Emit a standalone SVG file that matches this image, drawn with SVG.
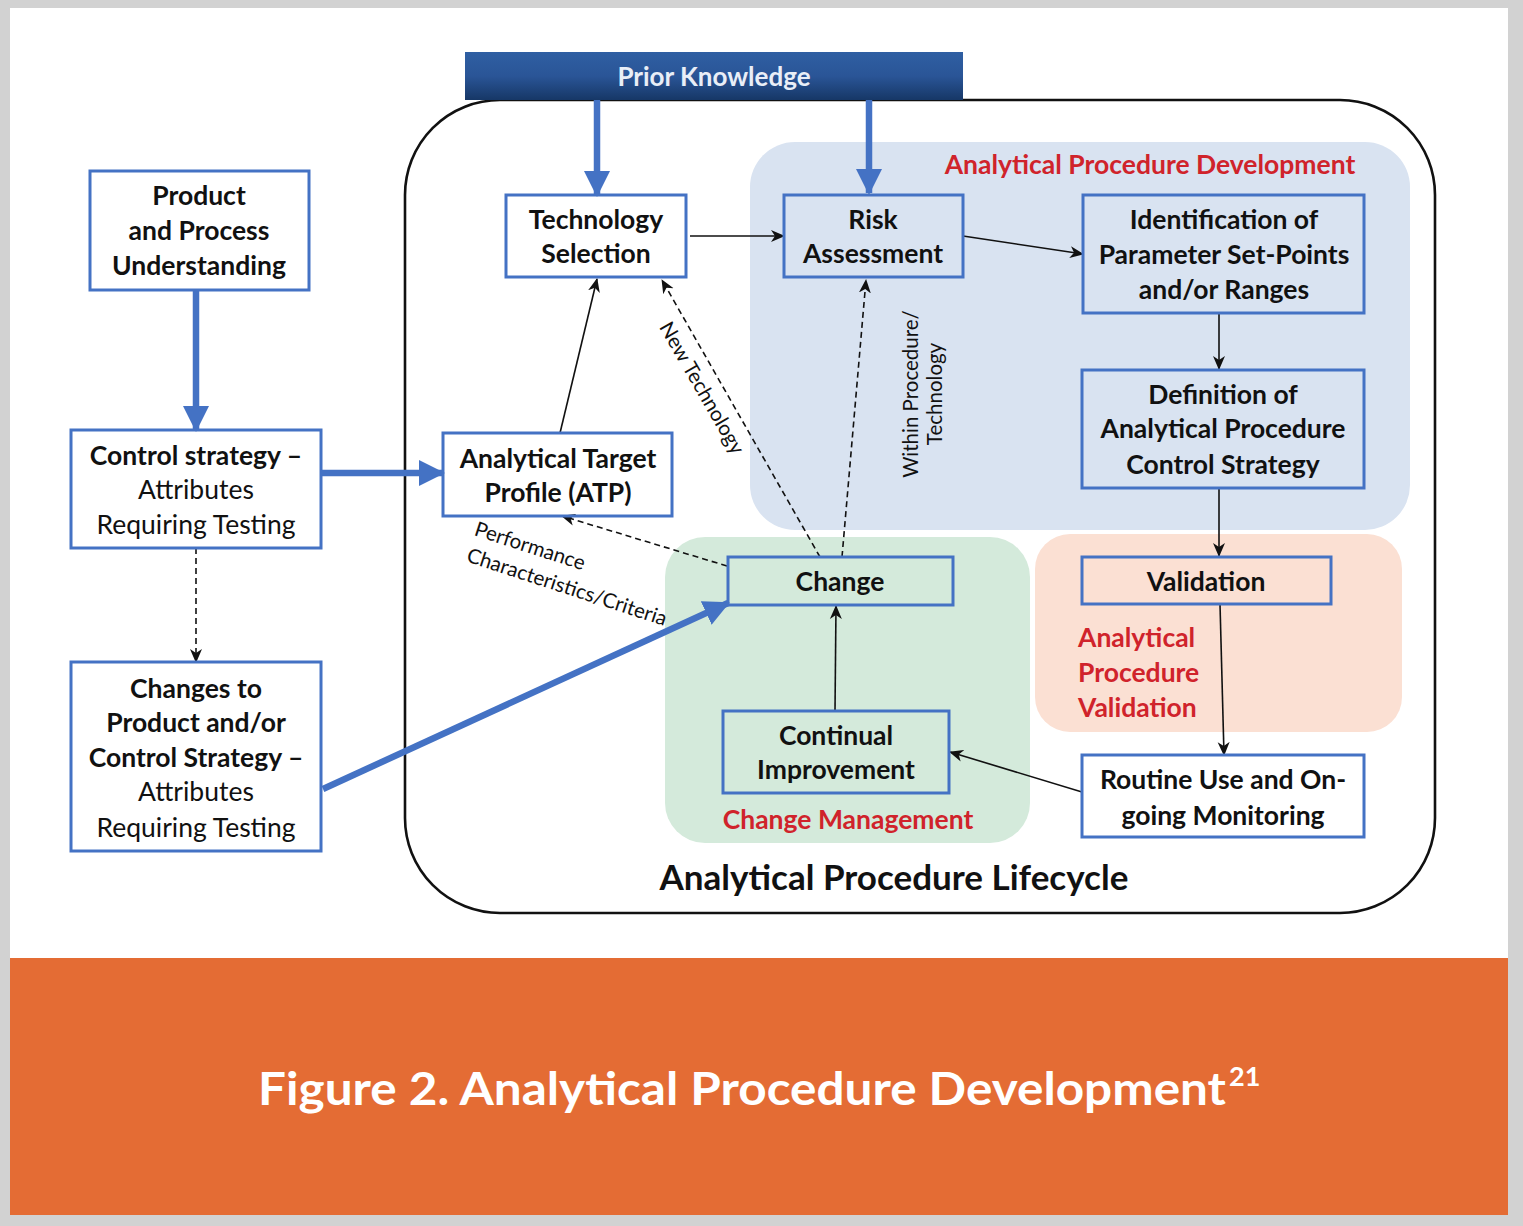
<svg xmlns="http://www.w3.org/2000/svg" width="1523" height="1226" viewBox="0 0 1523 1226">
<style>
.t{font-family:Lato,"Open Sans","Liberation Sans",sans-serif;font-size:26.5px;font-weight:bold;fill:#111;text-anchor:middle}
.r{font-weight:normal}
.red{font-family:Lato,"Open Sans","Liberation Sans",sans-serif;font-size:26.5px;font-weight:bold;fill:#d0232b}
.sm{font-family:Lato,"Open Sans","Liberation Sans",sans-serif;font-size:20.5px;fill:#111;text-anchor:middle}
.box{fill:none;stroke:#4472c4;stroke-width:3}
.thick{stroke:#4472c4;stroke-width:6.5;fill:none;marker-end:url(#ab)}
.thin{stroke:#111;stroke-width:1.6;fill:none;marker-end:url(#ak)}
.dash{stroke:#111;stroke-width:1.6;fill:none;stroke-dasharray:6,4;marker-end:url(#ak)}
</style>
<defs>
<linearGradient id="pk" x1="0" y1="0" x2="0" y2="1">
<stop offset="0" stop-color="#2f5fa3"/>
<stop offset="0.5" stop-color="#2a5597"/>
<stop offset="1" stop-color="#163766"/>
</linearGradient>
<marker id="ab" markerUnits="userSpaceOnUse" markerWidth="26" markerHeight="26" viewBox="0 0 26 26" refX="24" refY="13" orient="auto">
<path d="M0,0 L26,13 L0,26 z" fill="#4472c4"/>
</marker>
<marker id="ak" markerUnits="userSpaceOnUse" markerWidth="14" markerHeight="14" viewBox="0 0 14 14" refX="13" refY="7" orient="auto">
<path d="M0,1 L14,7 L0,13 L4,7 z" fill="#111"/>
</marker>
</defs>

<rect x="0" y="0" width="1523" height="1226" fill="#d2d2d2"/>
<rect x="10" y="8" width="1498" height="950" fill="#ffffff"/>
<rect x="10" y="958" width="1498" height="257" fill="#e46c34"/>
<g id="caption">
<text x="258" y="1105" textLength="968" lengthAdjust="spacingAndGlyphs" style="font-family:Lato,'Open Sans','Liberation Sans',sans-serif;font-size:46px;font-weight:bold;fill:#ffffff">Figure 2. Analytical Procedure Development</text>
<text x="1229" y="1086" style="font-family:Lato,'Open Sans','Liberation Sans',sans-serif;font-size:27px;font-weight:bold;fill:#ffffff">21</text>
</g>

<g id="regions">
<rect x="750" y="142" width="660" height="388" rx="45" fill="#d9e3f1"/>
<rect x="665" y="537" width="365" height="306" rx="40" fill="#d4eadb"/>
<rect x="1035" y="534" width="367" height="198" rx="35" fill="#fbe0d3"/>
<rect id="lifecycle" x="405" y="100" width="1030" height="813" rx="95" fill="none" stroke="#111" stroke-width="2.6"/>
<text class="red" x="1150" y="174" text-anchor="middle">Analytical Procedure Development</text>
<text class="red" x="848" y="829" text-anchor="middle">Change Management</text>
<text class="red" x="1078" y="647">Analytical</text>
<text class="red" x="1078" y="682">Procedure</text>
<text class="red" x="1078" y="717">Validation</text>
<text class="t" x="894" y="890" style="font-size:35px">Analytical Procedure Lifecycle</text>
</g>

<g id="prior-knowledge">
<rect x="465" y="52" width="498" height="48" fill="url(#pk)"/>
<text class="t" x="714" y="86" style="fill:#e9eef7;font-size:26px">Prior Knowledge</text>
</g>

<g id="connectors">
<line class="thick" x1="597" y1="100" x2="597" y2="195"/>
<line class="thick" x1="869" y1="100" x2="869" y2="193"/>
<line class="thick" x1="196" y1="290" x2="196" y2="430"/>
<line class="thick" x1="321" y1="473" x2="443" y2="473"/>
<line class="thick" x1="323" y1="789" x2="728" y2="603"/>
<line class="dash" x1="196" y1="548" x2="196" y2="662"/>
<line class="thin" x1="690" y1="236" x2="784" y2="236"/>
<line class="thin" x1="963" y1="236" x2="1083" y2="254"/>
<line class="thin" x1="1219" y1="313" x2="1219" y2="369"/>
<line class="thin" x1="1219" y1="488" x2="1219" y2="556"/>
<line class="thin" x1="1220" y1="604" x2="1224" y2="755"/>
<line class="thin" x1="1082" y1="792" x2="950" y2="752"/>
<line class="thin" x1="835" y1="711" x2="836" y2="606"/>
<line class="thin" x1="560" y1="433" x2="597" y2="279"/>
<line class="dash" x1="820" y1="557" x2="662" y2="280"/>
<line class="dash" x1="842" y1="557" x2="866" y2="280"/>
<line class="dash" x1="727" y1="566" x2="562" y2="516"/>
<text class="sm" transform="translate(702,388) rotate(60)" dy="7">New Technology</text>
<text class="sm" transform="translate(911,394) rotate(-90)" dy="7">Within Procedure/</text>
<text class="sm" transform="translate(935,394) rotate(-90)" dy="7">Technology</text>
<text class="sm" transform="translate(530,546) rotate(18)" dy="7">Performance</text>
<text class="sm" transform="translate(567,587) rotate(18)" dy="7">Characteristics/Criteria</text>
</g>

<g id="product-process">
<rect class="box" x="90" y="171" width="219" height="119" fill="#fff"/>
<text class="t" x="199" y="205">Product</text>
<text class="t" x="199" y="240">and Process</text>
<text class="t" x="199" y="275">Understanding</text>
</g>
<g id="control-strategy">
<rect class="box" x="71" y="430" width="250" height="118"/>
<text class="t" x="196" y="465">Control strategy –</text>
<text class="t r" x="196" y="499">Attributes</text>
<text class="t r" x="196" y="534">Requiring Testing</text>
</g>
<g id="changes-to-product">
<rect class="box" x="71" y="662" width="250" height="189"/>
<text class="t" x="196" y="698">Changes to</text>
<text class="t" x="196" y="732">Product and/or</text>
<text class="t" x="196" y="767">Control Strategy –</text>
<text class="t r" x="196" y="801">Attributes</text>
<text class="t r" x="196" y="837">Requiring Testing</text>
</g>
<g id="technology-selection">
<rect class="box" x="506" y="195" width="180" height="82"/>
<text class="t" x="596" y="229">Technology</text>
<text class="t" x="596" y="263">Selection</text>
</g>
<g id="atp">
<rect class="box" x="443" y="433" width="229" height="83"/>
<text class="t" x="558" y="468">Analytical Target</text>
<text class="t" x="558" y="502">Profile (ATP)</text>
</g>
<g id="risk-assessment">
<rect class="box" x="784" y="195" width="179" height="82"/>
<text class="t" x="873" y="229">Risk</text>
<text class="t" x="873" y="263">Assessment</text>
</g>
<g id="identification">
<rect class="box" x="1083" y="195" width="281" height="118"/>
<text class="t" x="1224" y="229">Identification of</text>
<text class="t" x="1224" y="264">Parameter Set-Points</text>
<text class="t" x="1224" y="299">and/or Ranges</text>
</g>
<g id="definition">
<rect class="box" x="1082" y="370" width="282" height="118"/>
<text class="t" x="1223" y="404">Definition of</text>
<text class="t" x="1223" y="438">Analytical Procedure</text>
<text class="t" x="1223" y="474">Control Strategy</text>
</g>
<g id="validation">
<rect class="box" x="1082" y="557" width="249" height="47"/>
<text class="t" x="1206" y="591">Validation</text>
</g>
<g id="change">
<rect class="box" x="728" y="557" width="225" height="48"/>
<text class="t" x="840" y="591">Change</text>
</g>
<g id="continual-improvement">
<rect class="box" x="723" y="711" width="226" height="82"/>
<text class="t" x="836" y="745">Continual</text>
<text class="t" x="836" y="779">Improvement</text>
</g>
<g id="routine-use">
<rect class="box" x="1082" y="755" width="282" height="82"/>
<text class="t" x="1223" y="789">Routine Use and On-</text>
<text class="t" x="1223" y="825">going Monitoring</text>
</g>
</svg>
